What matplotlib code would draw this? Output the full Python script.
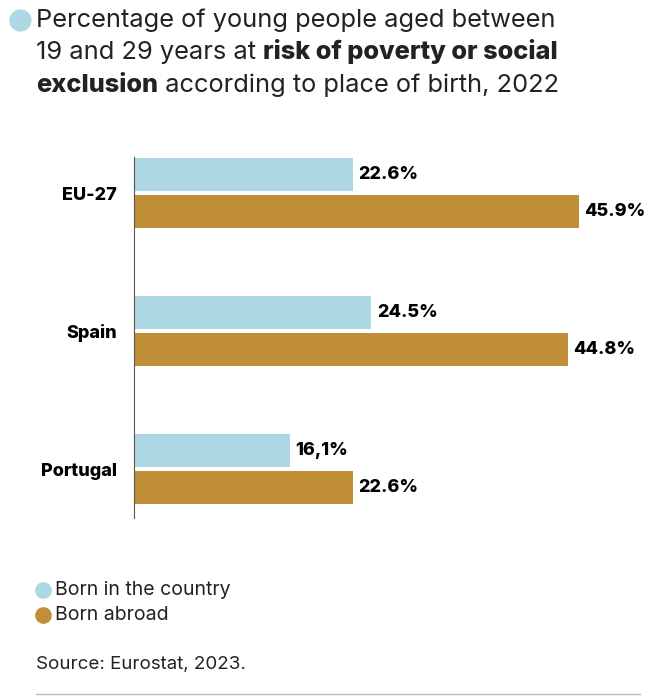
import matplotlib
matplotlib.use("Agg")
import matplotlib.pyplot as plt
from matplotlib.lines import Line2D

categories = ["EU-27", "Spain", "Portugal"]
born_country = [22.6, 24.5, 16.1]
born_abroad = [45.9, 44.8, 22.6]
labels_country = ["22.6%", "24.5%", "16,1%"]
labels_abroad = ["45.9%", "44.8%", "22.6%"]

C1 = "#add8e3"
C2 = "#c08f37"
plt.rcParams['font.family'] = ['Inter', 'DejaVu Sans']

W, H = 662, 697
fig = plt.figure(figsize=(W/100, H/100), dpi=100)
ax = fig.add_axes([134/W, 1-518/H, (630-134)/W, 361/H])
bh = 0.239
off = 0.136
ys = list(range(len(categories)))
ax.barh([y-off for y in ys], born_country, height=bh, color=C1)
ax.barh([y+off for y in ys], born_abroad, height=bh, color=C2)
for y, v, l in zip(ys, born_country, labels_country):
    ax.annotate(l, (v, y-off), xytext=(4, 0), textcoords="offset points", va="center", fontsize=13, fontweight="heavy")
for y, v, l in zip(ys, born_abroad, labels_abroad):
    ax.annotate(l, (v, y+off), xytext=(4, 0), textcoords="offset points", va="center", fontsize=13, fontweight="heavy")
ax.set_xlim(0, 51.2)
ax.set_ylim(2.355, -0.261)
ax.set_yticks(ys)
ax.set_yticklabels(categories, fontsize=13, fontweight="heavy")
ax.tick_params(axis="y", length=0, pad=12)
ax.set_xticks([])
for s in ["top", "right", "bottom"]:
    ax.spines[s].set_visible(False)
ax.spines["left"].set_color("#555555")

fig.canvas.draw()
r = fig.canvas.get_renderer()

def line(parts, x, y, fs=18.3):
    for txt, w in parts:
        t = fig.text(x/W, 1-y/H, txt, fontsize=fs, fontweight=w, va="center", ha="left", color="#222222")
        bb = t.get_window_extent(renderer=r)
        x += bb.width

fig.add_artist(Line2D([20/W], [1-20/H], marker="o", markersize=15, color=C1, transform=fig.transFigure))
line([("Percentage of young people aged between", "normal")], 36, 20)
line([("19 and 29 years at ", "normal"), ("risk of poverty or social", "heavy")], 36, 52)
line([("exclusion", "heavy"), (" according to place of birth, 2022", "normal")], 36, 85)

for y, c, t in [(590, C1, "Born in the country"), (615, C2, "Born abroad")]:
    fig.add_artist(Line2D([43/W], [1-y/H], marker="o", markersize=11, color=c, transform=fig.transFigure))
    fig.text(55/W, 1-y/H, t, fontsize=14, va="center", color="#222222")
fig.text(36/W, 1-665/H, "Source: Eurostat, 2023.", fontsize=13.5, va="center", color="#222222")
fig.add_artist(Line2D([36/W, 640/W], [1-694/H, 1-694/H], color="#bbbbbb", lw=1, transform=fig.transFigure))
fig.savefig("out.png", dpi=100)
